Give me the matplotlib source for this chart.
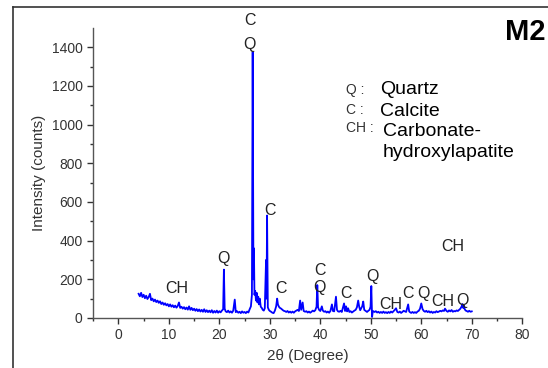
import matplotlib
matplotlib.use("Agg")
import matplotlib.pyplot as plt
from matplotlib.lines import Line2D

plt.rcParams['font.family'] = ['Liberation Sans', 'DejaVu Sans']

# XRD trace: (2theta, counts)
two_theta = [
    4.0, 4.25, 4.5, 4.75, 5.0, 5.25, 5.5, 5.75, 6.0, 6.25, 6.5, 6.75, 7.0, 7.25, 7.5, 7.75,
    8.0, 8.25, 8.5, 8.75, 9.0, 9.25, 9.5, 9.75, 10.0, 10.25, 10.5, 10.75, 11.0, 11.25, 11.5, 11.75,
    12.0, 12.25, 12.5, 12.75, 13.0, 13.25, 13.5, 13.75, 14.0, 14.25, 14.5, 14.75, 15.0, 15.25, 15.5, 15.75,
    16.0, 16.25, 16.5, 16.75, 17.0, 17.25, 17.5, 17.75, 18.0, 18.25, 18.5, 18.75, 19.0, 19.25, 19.5, 19.75,
    20.0, 20.25, 20.5, 20.75, 20.9, 21.05, 21.25, 21.5, 21.75, 22.0, 22.25, 22.5, 22.75, 23.05, 23.25, 23.5,
    23.75, 24.0, 24.25, 24.5, 24.75, 25.0, 25.25, 25.5, 25.75, 26.0, 26.25, 26.45, 26.6, 26.75, 26.85, 26.95,
    27.1, 27.25, 27.4, 27.55, 27.7, 27.85, 28.0, 28.2, 28.4, 28.6, 28.8, 29.0, 29.25, 29.35, 29.45, 29.6,
    29.8, 30.0, 30.25, 30.5, 30.75, 31.0, 31.25, 31.45, 31.6, 31.8, 32.0, 32.25, 32.5, 32.75, 33.0, 33.25,
    33.5, 33.75, 34.0, 34.25, 34.5, 34.75, 35.0, 35.25, 35.5, 35.75, 36.0, 36.2, 36.5, 36.7, 37.0, 37.25,
    37.5, 37.75, 38.0, 38.25, 38.5, 38.75, 39.0, 39.25, 39.4, 39.55, 39.75, 40.0, 40.3, 40.5, 40.75, 41.0,
    41.25, 41.5, 41.75, 42.0, 42.3, 42.5, 42.75, 43.1, 43.3, 43.5, 43.75, 44.0, 44.25, 44.5, 44.7, 44.9,
    45.1, 45.3, 45.5, 45.75, 46.0, 46.25, 46.5, 46.75, 47.0, 47.25, 47.5, 47.7, 47.9, 48.1, 48.3, 48.5,
    48.7, 49.0, 49.25, 49.5, 49.75, 49.95, 50.1, 50.25, 50.4, 50.75, 51.0, 51.25, 51.5, 51.75, 52.0, 52.25,
    52.5, 52.75, 53.0, 53.25, 53.5, 53.75, 54.0, 54.25, 54.5, 54.75, 55.0, 55.25, 55.5, 55.75, 56.0, 56.25,
    56.5, 56.75, 57.0, 57.4, 57.6, 57.75, 58.0, 58.25, 58.5, 58.75, 59.0, 59.25, 59.5, 59.75, 60.0, 60.25,
    60.5, 60.75, 61.0, 61.25, 61.5, 61.75, 62.0, 62.25, 62.5, 62.75, 63.0, 63.25, 63.5, 63.75, 64.0, 64.25,
    64.5, 64.7, 65.0, 65.25, 65.5, 65.75, 66.0, 66.25, 66.5, 66.75, 67.0, 67.25, 67.5, 67.75, 68.0, 68.15,
    68.3, 68.45, 68.6, 68.8, 69.0, 69.25, 69.5, 69.75, 70.0,
]
counts = [
    125, 112, 130, 108, 120, 102, 115, 98, 108, 125, 92, 100, 86, 95, 82, 90,
    78, 86, 72, 80, 68, 76, 65, 72, 60, 70, 58, 66, 55, 64, 53, 62,
    80, 52, 58, 48, 56, 45, 54, 43, 60, 42, 52, 40, 48, 37, 46, 35,
    44, 33, 42, 32, 45, 31, 40, 30, 38, 29, 40, 27, 36, 28, 38, 27,
    35, 29, 38, 45, 250, 48, 34, 30, 38, 28, 34, 27, 38, 95, 30, 35,
    27, 32, 25, 34, 27, 31, 25, 33, 28, 45, 60, 120, 1375, 200, 360, 120,
    140, 90, 130, 80, 110, 70, 100, 58, 52, 42, 38, 50, 300, 100, 530, 55,
    42, 36, 32, 27, 25, 38, 60, 100, 70, 58, 52, 48, 42, 37, 35, 31,
    36, 28, 33, 27, 33, 27, 34, 38, 42, 36, 90, 42, 80, 36, 32, 35,
    28, 33, 27, 32, 38, 34, 40, 58, 170, 55, 42, 36, 60, 38, 32, 35,
    28, 33, 27, 36, 70, 36, 34, 110, 42, 34, 32, 37, 31, 55, 75, 36,
    60, 34, 50, 31, 35, 28, 33, 38, 42, 55, 90, 58, 40, 50, 60, 85,
    42, 36, 31, 37, 42, 58, 165, 5, 36, 31, 35, 28, 32, 26, 31, 26,
    33, 26, 30, 25, 31, 26, 33, 28, 35, 42, 50, 31, 28, 33, 26, 31,
    37, 34, 31, 70, 34, 30, 26, 31, 26, 30, 26, 33, 37, 48, 75, 46,
    36, 32, 37, 30, 35, 28, 33, 26, 31, 28, 35, 30, 33, 37, 34, 39,
    36, 48, 36, 32, 39, 34, 41, 32, 36, 34, 39, 36, 42, 48, 60, 72,
    52, 65, 45, 38, 36, 32, 37, 32, 34,
]

xticks = [0, 10, 20, 30, 40, 50, 60, 70, 80]
yticks = [0, 200, 400, 600, 800, 1000, 1200, 1400]

# phase labels: (text, 2theta, counts)
peak_labels = [
    ("C", 26.0, 1540), ("Q", 26.0, 1415), ("C", 30.0, 558), ("Q", 20.8, 310),
    ("CH", 11.5, 150), ("C", 32.3, 150), ("C", 39.9, 248), ("Q", 39.9, 160),
    ("C", 45.0, 124), ("Q", 50.4, 217), ("CH", 54.0, 72), ("C", 57.3, 129),
    ("Q", 60.5, 124), ("CH", 64.3, 83), ("Q", 68.1, 88), ("CH", 66.3, 372),
]

legend_keys = ["Q :", "C :", "CH :"]
legend_names = ["Quartz", "Calcite", "Carbonate-", "hydroxylapatite"]

fig = plt.figure(figsize=(5.48, 3.68), dpi=100)
ax = fig.add_axes([0.170, 0.136, 0.783, 0.788])

ax.plot(two_theta, counts, color='#0000ff', lw=1.3)
ax.set_xlim(-5, 80)
ax.set_ylim(0, 1500)
ax.set_xticks(xticks)
ax.set_yticks(yticks)
ax.set_xticks(range(-5, 80, 10), minor=True)
ax.set_yticks(range(100, 1500, 200), minor=True)
for s in ['top', 'right']:
    ax.spines[s].set_visible(False)
for s in ['left', 'bottom']:
    ax.spines[s].set_color('#555555')
    ax.spines[s].set_linewidth(1.0)
ax.tick_params(which='major', direction='out', length=4, width=1, colors='#333333', labelsize=10)
ax.tick_params(which='minor', direction='out', length=2.5, width=1, colors='#333333')
ax.set_xlabel("2θ (Degree)", fontsize=11, color='#333333', labelpad=5)
ax.set_ylabel("Intensity (counts)", fontsize=11, color='#333333', labelpad=4)

for t, px, py in peak_labels:
    ax.text(px, py, t, ha='center', va='center', fontsize=11.5, color='#222222', clip_on=False)

# legend-like text block (figure pixel rows converted to fractions)
key_y = [90, 110, 128]
name_y = [90, 112, 132, 152]
for k, yy in zip(legend_keys, key_y):
    fig.text(346 / 548, 1 - yy / 368, k, fontsize=10, color='#333333', ha='left', va='center')
name_x = [380, 380, 383, 383]
for n, xx, yy in zip(legend_names, name_x, name_y):
    fig.text(xx / 548, 1 - yy / 368, n, fontsize=14, color='black', ha='left', va='center')

fig.text(0.995, 0.913, "M2", fontsize=21, fontweight='bold', ha='right', va='center', color='black')

# outer frame lines
fig.add_artist(Line2D([0.024, 0.024], [0.0, 0.981], transform=fig.transFigure, color='#333333', lw=1.2))
fig.add_artist(Line2D([0.024, 1.0], [0.981, 0.981], transform=fig.transFigure, color='#333333', lw=1.2))

fig.savefig("out.png", dpi=100)
